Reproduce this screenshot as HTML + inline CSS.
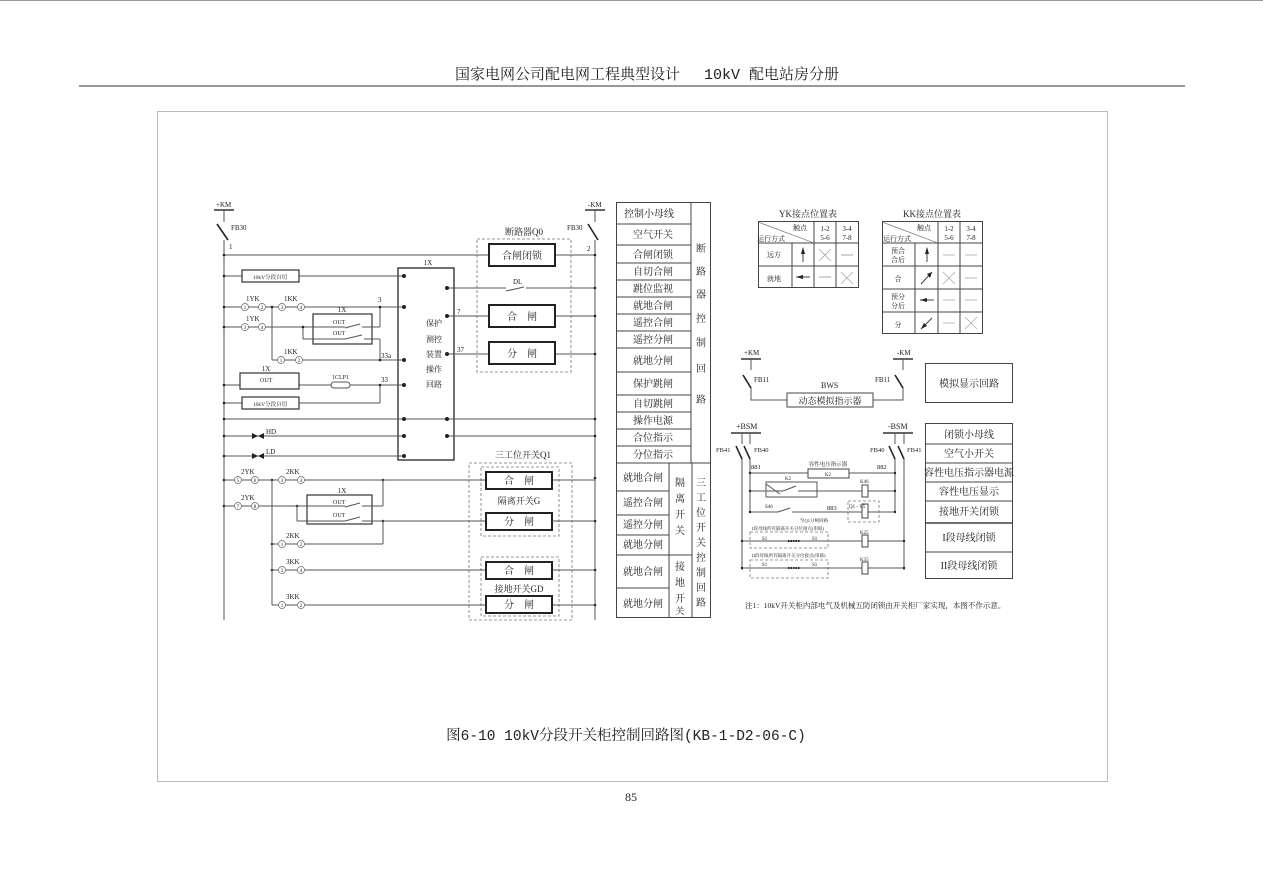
<!DOCTYPE html>
<html><head><meta charset="utf-8"><style>
html,body{margin:0;padding:0;background:#fff}
svg{display:block}
text{font-family:"Liberation Serif","Noto Serif CJK SC","Noto Sans CJK SC",serif;fill:#222}
.mono{font-family:"Liberation Mono","Noto Serif CJK SC","Noto Sans CJK SC",monospace}
.l{stroke:#555;stroke-width:1;fill:none}
.b{stroke:#222;stroke-width:2;fill:#fff}
.t{stroke:#444;stroke-width:1;fill:none}
.d{stroke:#777;stroke-width:0.8;fill:none;stroke-dasharray:3,2}
.c{stroke:#666;stroke-width:0.7;fill:#fff}
</style></head><body>
<svg width="1263" height="892" viewBox="0 0 1263 892" xmlns="http://www.w3.org/2000/svg">
<line x1="0" y1="0.5" x2="1263" y2="0.5" stroke="#999"/>
<text class="mono" x="647" y="79" font-size="15" text-anchor="middle">国家电网公司配电网工程典型设计　 10kV 配电站房分册</text>
<line x1="79" y1="86" x2="1185" y2="86" stroke="#333" stroke-width="1"/>
<rect x="157.5" y="111.5" width="950" height="670" fill="none" stroke="#bbb"/>
<text class="mono" x="626" y="740" font-size="14.5" text-anchor="middle">图6-10 10kV分段开关柜控制回路图(KB-1-D2-06-C)</text>
<text x="631" y="801" font-size="12" text-anchor="middle">85</text>

<!-- left circuit -->
<g font-size="7">
<text x="216" y="207">+KM</text><line x1="214" y1="210" x2="234" y2="210" stroke="#333" stroke-width="1.5"/>
<line class="l" x1="224" y1="210" x2="224" y2="222"/>
<line x1="217" y1="224" x2="228" y2="240" stroke="#222" stroke-width="1.6"/>
<text x="231" y="230">FB30</text>
<line class="l" x1="224" y1="240" x2="224" y2="620"/>
<text x="588" y="207">-KM</text><line x1="585" y1="210" x2="605" y2="210" stroke="#333" stroke-width="1.5"/>
<line class="l" x1="595" y1="210" x2="595" y2="222"/>
<line x1="588" y1="224" x2="598" y2="240" stroke="#222" stroke-width="1.6"/>
<text x="567" y="230">FB30</text>
<line class="l" x1="595" y1="240" x2="595" y2="620"/>
<text x="229" y="249">1</text><text x="587" y="251">2</text>
<text x="524" y="235" font-size="9" text-anchor="middle">断路器Q0</text>
<rect class="d" x="477" y="239" width="94" height="133"/>
<line class="l" x1="224" y1="255" x2="489" y2="255"/><line class="l" x1="556" y1="255" x2="595" y2="255"/>
<rect class="b" x="489" y="244" width="66" height="22"/><text x="522" y="259" font-size="10" text-anchor="middle">合闸闭锁</text>
<rect x="398" y="268" width="56" height="192" fill="#fff" stroke="#333" stroke-width="1.4"/>
<text x="428" y="265" text-anchor="middle">1X</text>
<g font-size="8"><text x="426" y="326">保护</text><text x="426" y="342">测控</text><text x="426" y="357">装置</text><text x="426" y="372">操作</text><text x="426" y="387">回路</text></g>
<line class="l" x1="224" y1="276" x2="242" y2="276"/><line class="l" x1="299" y1="276" x2="404" y2="276"/>
<rect x="242" y="270" width="57" height="12" fill="#fff" stroke="#333" stroke-width="1.2"/><text x="270" y="279" font-size="5.5" text-anchor="middle">10kV分段自切</text>
<line class="l" x1="447" y1="288" x2="506" y2="288"/><line class="l" x1="506" y1="291" x2="524" y2="287"/><line class="l" x1="526" y1="288" x2="595" y2="288"/>
<text x="513" y="284">DL</text>
<line class="l" x1="224" y1="307" x2="404" y2="307"/>
<text x="246" y="301">1YK</text><text x="284" y="301">1KK</text>
<circle class="c" cx="245" cy="307" r="3.5"/><circle class="c" cx="262" cy="307" r="3.5"/>
<circle class="c" cx="282" cy="307" r="3.5"/><circle class="c" cx="301" cy="307" r="3.5"/>
<g font-size="5" text-anchor="middle"><text x="245" y="309">1</text><text x="262" y="309">2</text><text x="282" y="309">3</text><text x="301" y="309">4</text></g>
<text x="378" y="302">3</text>
<line class="l" x1="224" y1="327" x2="303" y2="327"/>
<text x="246" y="321">1YK</text>
<circle class="c" cx="245" cy="327" r="3.5"/><circle class="c" cx="262" cy="327" r="3.5"/>
<g font-size="5" text-anchor="middle"><text x="245" y="329">3</text><text x="262" y="329">4</text></g>
<rect x="313" y="314" width="59" height="30" fill="#fff" stroke="#333" stroke-width="1.2"/>
<text x="342" y="312" text-anchor="middle">1X</text>
<text x="333" y="324" font-size="6">OUT</text><text x="333" y="335" font-size="6">OUT</text>
<line class="l" x1="303" y1="327" x2="303" y2="339"/><line class="l" x1="303" y1="339" x2="345" y2="339"/><line class="l" x1="345" y1="339" x2="362" y2="335"/>
<line class="l" x1="303" y1="327" x2="345" y2="327"/><line class="l" x1="345" y1="328" x2="360" y2="324"/><line class="l" x1="362" y1="327" x2="380" y2="327"/>
<line class="l" x1="380" y1="307" x2="380" y2="327"/>
<line class="l" x1="364" y1="339" x2="380" y2="339"/><line class="l" x1="380" y1="339" x2="380" y2="360"/>
<line class="l" x1="272" y1="307" x2="272" y2="360"/><line class="l" x1="272" y1="360" x2="404" y2="360"/>
<text x="284" y="354">1KK</text>
<circle class="c" cx="281" cy="360" r="3.5"/><circle class="c" cx="299" cy="360" r="3.5"/>
<g font-size="5" text-anchor="middle"><text x="281" y="362">1</text><text x="299" y="362">2</text></g>
<text x="381" y="358">33a</text>
<line class="l" x1="224" y1="385" x2="404" y2="385"/>
<rect x="240" y="373" width="59" height="16" fill="#fff" stroke="#333" stroke-width="1.2"/>
<text x="266" y="371" text-anchor="middle">1X</text><text x="260" y="382" font-size="6">OUT</text>
<rect x="331" y="382" width="19" height="6" rx="3" fill="#fff" stroke="#555"/>
<text x="332" y="379" font-size="6">1CLP1</text><text x="381" y="382">33</text>
<line class="l" x1="380" y1="385" x2="380" y2="403"/><line class="l" x1="299" y1="403" x2="380" y2="403"/>
<line class="l" x1="224" y1="403" x2="242" y2="403"/>
<rect x="242" y="397" width="57" height="12" fill="#fff" stroke="#333" stroke-width="1.2"/><text x="270" y="406" font-size="5.5" text-anchor="middle">10kV分段自切</text>
<line class="l" x1="447" y1="316" x2="489" y2="316"/><line class="l" x1="556" y1="316" x2="595" y2="316"/>
<rect class="b" x="489" y="305" width="66" height="22"/><text x="522" y="320" font-size="10" text-anchor="middle">合　闸</text>
<text x="457" y="314">7</text>
<line class="l" x1="447" y1="354" x2="489" y2="354"/><line class="l" x1="556" y1="354" x2="595" y2="354"/>
<rect class="b" x="489" y="342" width="66" height="22"/><text x="522" y="357" font-size="10" text-anchor="middle">分　闸</text>
<text x="457" y="352">37</text>
<line class="l" x1="224" y1="419" x2="595" y2="419"/>
<line class="l" x1="224" y1="436" x2="404" y2="436"/><line class="l" x1="447" y1="436" x2="595" y2="436"/>
<line class="l" x1="224" y1="456" x2="404" y2="456"/>
<path d="M252 433 L252 439 L258 436 Z M264 433 L264 439 L258 436 Z" fill="#222"/><text x="266" y="434">HD</text>
<path d="M252 453 L252 459 L258 456 Z M264 453 L264 459 L258 456 Z" fill="#222"/><text x="266" y="454">LD</text>
<g fill="#222">
<circle cx="404" cy="276" r="2"/><circle cx="404" cy="307" r="2"/><circle cx="404" cy="360" r="2"/><circle cx="404" cy="385" r="2"/><circle cx="404" cy="419" r="2"/><circle cx="404" cy="436" r="2"/><circle cx="404" cy="456" r="2"/>
<circle cx="447" cy="288" r="2"/><circle cx="447" cy="316" r="2"/><circle cx="447" cy="354" r="2"/><circle cx="447" cy="419" r="2"/><circle cx="447" cy="436" r="2"/>
<circle cx="224" cy="255" r="1.3"/><circle cx="224" cy="276" r="1.3"/><circle cx="224" cy="307" r="1.3"/><circle cx="224" cy="327" r="1.3"/><circle cx="224" cy="385" r="1.3"/><circle cx="224" cy="403" r="1.3"/><circle cx="224" cy="419" r="1.3"/><circle cx="224" cy="436" r="1.3"/><circle cx="224" cy="456" r="1.3"/><circle cx="224" cy="480" r="1.3"/><circle cx="224" cy="506" r="1.3"/>
<circle cx="595" cy="255" r="1.3"/><circle cx="595" cy="288" r="1.3"/><circle cx="595" cy="316" r="1.3"/><circle cx="595" cy="354" r="1.3"/><circle cx="595" cy="419" r="1.3"/><circle cx="595" cy="436" r="1.3"/><circle cx="595" cy="478" r="1.3"/><circle cx="595" cy="521" r="1.3"/><circle cx="595" cy="570" r="1.3"/><circle cx="595" cy="605" r="1.3"/>
<circle cx="272" cy="307" r="1.3"/><circle cx="380" cy="307" r="1.3"/><circle cx="303" cy="327" r="1.3"/><circle cx="380" cy="360" r="1.3"/><circle cx="380" cy="385" r="1.3"/>
<circle cx="272" cy="480" r="1.3"/><circle cx="383" cy="480" r="1.3"/><circle cx="297" cy="506" r="1.3"/><circle cx="383" cy="521" r="1.3"/><circle cx="272" cy="544" r="1.3"/><circle cx="272" cy="570" r="1.3"/>
</g>
<text x="523" y="458" font-size="9" text-anchor="middle">三工位开关Q1</text>
<rect class="d" x="469" y="463" width="103" height="157"/>
<rect class="d" x="481" y="467" width="78" height="69"/>
<rect class="d" x="481" y="557" width="78" height="59"/>
<line class="l" x1="224" y1="480" x2="486" y2="480"/><line class="l" x1="552" y1="480" x2="595" y2="480"/>
<rect class="b" x="486" y="472" width="66" height="17"/><text x="519" y="484" font-size="10" text-anchor="middle">合　闸</text>
<text x="519" y="504" font-size="9" text-anchor="middle">隔离开关G</text>
<text x="241" y="474">2YK</text><text x="286" y="474">2KK</text>
<circle class="c" cx="238" cy="480" r="3.5"/><circle class="c" cx="255" cy="480" r="3.5"/><circle class="c" cx="282" cy="480" r="3.5"/><circle class="c" cx="301" cy="480" r="3.5"/>
<g font-size="5" text-anchor="middle"><text x="238" y="482">5</text><text x="255" y="482">6</text><text x="282" y="482">3</text><text x="301" y="482">4</text></g>
<line class="l" x1="224" y1="506" x2="297" y2="506"/>
<text x="241" y="500">2YK</text>
<circle class="c" cx="238" cy="506" r="3.5"/><circle class="c" cx="255" cy="506" r="3.5"/>
<g font-size="5" text-anchor="middle"><text x="238" y="508">7</text><text x="255" y="508">8</text></g>
<rect x="307" y="495" width="65" height="29" fill="#fff" stroke="#333" stroke-width="1.2"/>
<text x="342" y="493" text-anchor="middle">1X</text>
<text x="333" y="504" font-size="6">OUT</text><text x="333" y="517" font-size="6">OUT</text>
<line class="l" x1="297" y1="506" x2="345" y2="506"/><line class="l" x1="345" y1="507" x2="360" y2="503"/><line class="l" x1="362" y1="506" x2="383" y2="506"/>
<line class="l" x1="297" y1="506" x2="297" y2="521"/><line class="l" x1="297" y1="521" x2="345" y2="521"/><line class="l" x1="345" y1="521" x2="360" y2="517"/><line class="l" x1="362" y1="521" x2="486" y2="521"/>
<line class="l" x1="383" y1="480" x2="383" y2="506"/>
<rect class="b" x="486" y="513" width="66" height="17"/><text x="519" y="525" font-size="10" text-anchor="middle">分　闸</text>
<line class="l" x1="552" y1="521" x2="595" y2="521"/>
<line class="l" x1="272" y1="480" x2="272" y2="605"/>
<line class="l" x1="272" y1="544" x2="383" y2="544"/><line class="l" x1="383" y1="521" x2="383" y2="544"/>
<text x="286" y="538">2KK</text>
<circle class="c" cx="282" cy="544" r="3.5"/><circle class="c" cx="301" cy="544" r="3.5"/>
<line class="l" x1="272" y1="570" x2="486" y2="570"/><line class="l" x1="552" y1="570" x2="595" y2="570"/>
<text x="286" y="564">3KK</text>
<circle class="c" cx="282" cy="570" r="3.5"/><circle class="c" cx="301" cy="570" r="3.5"/>
<rect class="b" x="486" y="562" width="66" height="17"/><text x="519" y="574" font-size="10" text-anchor="middle">合　闸</text>
<text x="519" y="592" font-size="9" text-anchor="middle">接地开关GD</text>
<line class="l" x1="272" y1="605" x2="486" y2="605"/><line class="l" x1="552" y1="605" x2="595" y2="605"/>
<text x="286" y="599">3KK</text>
<circle class="c" cx="282" cy="605" r="3.5"/><circle class="c" cx="301" cy="605" r="3.5"/>
<rect class="b" x="486" y="596" width="66" height="17"/><text x="519" y="608" font-size="10" text-anchor="middle">分　闸</text>
<g font-size="5" text-anchor="middle"><text x="282" y="546">1</text><text x="301" y="546">2</text><text x="282" y="572">3</text><text x="301" y="572">4</text><text x="282" y="607">1</text><text x="301" y="607">2</text></g>
</g>

<g font-size="10" text-anchor="middle">
<rect class="t" x="616.5" y="202.5" width="94" height="415"/>
<line class="t" x1="691" y1="202" x2="691" y2="463"/>
<line class="t" x1="616" y1="463" x2="711" y2="463"/>
<line class="t" x1="669" y1="463" x2="669" y2="618"/><line class="t" x1="692" y1="463" x2="692" y2="618"/>
<g class="t">
<line x1="616" y1="224" x2="691" y2="224"/><line x1="616" y1="245" x2="691" y2="245"/><line x1="616" y1="263" x2="691" y2="263"/><line x1="616" y1="280" x2="691" y2="280"/><line x1="616" y1="297" x2="691" y2="297"/><line x1="616" y1="314" x2="691" y2="314"/><line x1="616" y1="331" x2="691" y2="331"/><line x1="616" y1="348" x2="691" y2="348"/><line x1="616" y1="372" x2="691" y2="372"/><line x1="616" y1="395" x2="691" y2="395"/><line x1="616" y1="412" x2="691" y2="412"/><line x1="616" y1="429" x2="691" y2="429"/><line x1="616" y1="446" x2="691" y2="446"/>
<line x1="616" y1="491" x2="669" y2="491"/><line x1="616" y1="515" x2="669" y2="515"/><line x1="616" y1="535" x2="669" y2="535"/><line x1="616" y1="555" x2="692" y2="555"/><line x1="616" y1="588" x2="669" y2="588"/>
</g>
<text x="649" y="217">控制小母线</text><text x="653" y="238">空气开关</text><text x="653" y="258">合闸闭锁</text><text x="653" y="275">自切合闸</text><text x="653" y="292">跳位监视</text><text x="653" y="309">就地合闸</text><text x="653" y="326">遥控合闸</text><text x="653" y="343">遥控分闸</text><text x="653" y="364">就地分闸</text><text x="653" y="387">保护跳闸</text><text x="653" y="407">自切跳闸</text><text x="653" y="424">操作电源</text><text x="653" y="441">合位指示</text><text x="653" y="458">分位指示</text>
<text x="643" y="481">就地合闸</text><text x="643" y="506">遥控合闸</text><text x="643" y="528">遥控分闸</text><text x="643" y="548">就地分闸</text><text x="643" y="575">就地合闸</text><text x="643" y="607">就地分闸</text>
<text x="701" y="252">断</text><text x="701" y="275">路</text><text x="701" y="298">器</text><text x="701" y="322">控</text><text x="701" y="346">制</text><text x="701" y="372">回</text><text x="701" y="403">路</text>
<text x="680" y="486">隔</text><text x="680" y="502">离</text><text x="680" y="518">开</text><text x="680" y="534">关</text>
<text x="680" y="570">接</text><text x="680" y="586">地</text><text x="680" y="602">开</text><text x="680" y="614" font-size="9">关</text>
<text x="701" y="486">三</text><text x="701" y="501">工</text><text x="701" y="516">位</text><text x="701" y="531">开</text><text x="701" y="546">关</text><text x="701" y="561">控</text><text x="701" y="576">制</text><text x="701" y="591">回</text><text x="701" y="606">路</text>
</g>

<g font-size="7" text-anchor="middle">
<text x="808" y="217" font-size="9">YK接点位置表</text>
<rect class="t" x="758.5" y="221.5" width="100" height="66"/>
<line class="t" x1="792" y1="243" x2="792" y2="288"/><line class="t" x1="814" y1="221" x2="814" y2="288"/><line class="t" x1="836" y1="221" x2="836" y2="288"/>
<line class="t" x1="758" y1="243" x2="858" y2="243"/><line class="t" x1="758" y1="266" x2="858" y2="266"/>
<line x1="758" y1="222" x2="814" y2="243" stroke="#666" stroke-width="0.6"/>
<text x="800" y="230">触点</text><text x="771" y="241">运行方式</text>
<text x="825" y="231">1-2</text><text x="825" y="240">5-6</text><text x="847" y="231">3-4</text><text x="847" y="240">7-8</text>
<text x="774" y="257">远方</text><text x="774" y="281">就地</text>
<line x1="803" y1="248" x2="803" y2="262" stroke="#444"/><path d="M801 254 L803 247 L805 254Z" fill="#222"/>
<line x1="796" y1="277" x2="810" y2="277" stroke="#444"/><path d="M803 275 L796 277 L803 279Z" fill="#222"/>
<path d="M819 249 L831 261 M831 249 L819 261" stroke="#aaa" stroke-width="0.8"/>
<line x1="841" y1="255" x2="853" y2="255" stroke="#aaa"/>
<line x1="819" y1="277" x2="831" y2="277" stroke="#aaa"/>
<path d="M841 272 L853 284 M853 272 L841 284" stroke="#aaa" stroke-width="0.8"/>
</g>
<g font-size="7" text-anchor="middle">
<text x="932" y="217" font-size="9">KK接点位置表</text>
<rect class="t" x="882.5" y="221.5" width="100" height="112"/>
<line class="t" x1="915" y1="243" x2="915" y2="334"/><line class="t" x1="938" y1="221" x2="938" y2="334"/><line class="t" x1="960" y1="221" x2="960" y2="334"/>
<line class="t" x1="882" y1="243" x2="982" y2="243"/><line class="t" x1="882" y1="266" x2="982" y2="266"/><line class="t" x1="882" y1="289" x2="982" y2="289"/><line class="t" x1="882" y1="312" x2="982" y2="312"/>
<line x1="882" y1="222" x2="938" y2="243" stroke="#666" stroke-width="0.6"/>
<text x="924" y="230">触点</text><text x="897" y="241">运行方式</text>
<text x="949" y="231">1-2</text><text x="949" y="240">5-6</text><text x="971" y="231">3-4</text><text x="971" y="240">7-8</text>
<text x="898" y="253">预合</text><text x="898" y="262">合后</text><text x="898" y="281">合</text><text x="898" y="299">预分</text><text x="898" y="308">分后</text><text x="898" y="327">分</text>
<line x1="927" y1="248" x2="927" y2="262" stroke="#444"/><path d="M925 254 L927 247 L929 254Z" fill="#222"/>
<line x1="921" y1="284" x2="932" y2="272" stroke="#444"/><path d="M927 274 L932 272 L930 278Z" fill="#222"/>
<line x1="920" y1="300" x2="934" y2="300" stroke="#444"/><path d="M927 298 L920 300 L927 302Z" fill="#222"/>
<line x1="921" y1="329" x2="932" y2="318" stroke="#444"/><path d="M921 329 L924 323 L927 326Z" fill="#222"/>
<g stroke="#aaa" stroke-width="0.8">
<line x1="943" y1="255" x2="955" y2="255"/><line x1="965" y1="255" x2="977" y2="255"/>
<path d="M943 272 L955 284 M955 272 L943 284"/><line x1="965" y1="278" x2="977" y2="278"/>
<line x1="943" y1="300" x2="955" y2="300"/><line x1="965" y1="300" x2="977" y2="300"/>
<line x1="943" y1="323" x2="955" y2="323"/><path d="M965 317 L977 329 M977 317 L965 329"/>
</g>
</g>

<g font-size="7">
<text x="744" y="355">+KM</text><line x1="741" y1="359" x2="761" y2="359" stroke="#333" stroke-width="1.5"/>
<line class="l" x1="751" y1="359" x2="751" y2="370"/>
<line x1="743" y1="375" x2="751" y2="388" stroke="#222" stroke-width="1.6"/>
<text x="754" y="382">FB11</text>
<path class="l" d="M751 388 L751 400 L787 400"/>
<rect x="787" y="393" width="86" height="14" fill="#fff" stroke="#444"/><text x="830" y="404" font-size="9" text-anchor="middle">动态模拟指示器</text>
<text x="821" y="388" font-size="8">BWS</text>
<text x="897" y="355">-KM</text><line x1="893" y1="359" x2="913" y2="359" stroke="#333" stroke-width="1.5"/>
<line class="l" x1="903" y1="359" x2="903" y2="370"/>
<line x1="895" y1="375" x2="903" y2="388" stroke="#222" stroke-width="1.6"/>
<text x="875" y="382">FB11</text>
<path class="l" d="M903 388 L903 400 L873 400"/>
<rect class="t" x="925.5" y="363.5" width="87" height="39"/><text x="969" y="387" font-size="10" text-anchor="middle">模拟显示回路</text>
</g>

<g font-size="6.5">
<text x="736" y="429" font-size="8">+BSM</text><line x1="731" y1="433" x2="761" y2="433" stroke="#333" stroke-width="1.5"/>
<line class="l" x1="742" y1="433" x2="742" y2="444"/><line class="l" x1="750" y1="433" x2="750" y2="444"/>
<line x1="736" y1="446" x2="742" y2="459" stroke="#222" stroke-width="1.5"/>
<line x1="744" y1="446" x2="750" y2="459" stroke="#222" stroke-width="1.5"/>
<text x="716" y="452">FB41</text><text x="754" y="452">FB40</text>
<line class="l" x1="742" y1="459" x2="742" y2="570"/><line class="l" x1="750" y1="459" x2="750" y2="512"/>
<text x="888" y="429" font-size="8">-BSM</text><line x1="883" y1="433" x2="913" y2="433" stroke="#333" stroke-width="1.5"/>
<line class="l" x1="895" y1="433" x2="895" y2="444"/><line class="l" x1="904" y1="433" x2="904" y2="444"/>
<line x1="889" y1="446" x2="895" y2="459" stroke="#222" stroke-width="1.5"/>
<line x1="898" y1="446" x2="904" y2="459" stroke="#222" stroke-width="1.5"/>
<text x="870" y="452">FB40</text><text x="907" y="452">FB41</text>
<line class="l" x1="895" y1="459" x2="895" y2="512"/><line class="l" x1="904" y1="459" x2="904" y2="570"/>
<text x="751" y="469">881</text><text x="877" y="469">882</text>
<line class="l" x1="750" y1="473" x2="808" y2="473"/><line class="l" x1="849" y1="473" x2="895" y2="473"/>
<rect x="808" y="469" width="41" height="9" fill="#fff" stroke="#444"/><text x="828" y="476" text-anchor="middle" font-size="5">K2</text>
<text x="828" y="466" text-anchor="middle" font-size="5.5">容性电压指示器</text>
<line class="l" x1="750" y1="491" x2="783" y2="491"/><line class="l" x1="783" y1="491" x2="796" y2="486"/><line class="l" x1="798" y1="491" x2="862" y2="491"/><line class="l" x1="868" y1="491" x2="895" y2="491"/>
<rect x="766" y="482" width="51" height="15" fill="none" stroke="#555"/>
<line class="l" x1="766" y1="484" x2="780" y2="494"/>
<text x="785" y="480" font-size="5">K2</text>
<rect x="862" y="485" width="6" height="12" fill="#fff" stroke="#444"/><text x="860" y="483" font-size="5">K46</text>
<line class="l" x1="750" y1="512" x2="778" y2="512"/><line class="l" x1="778" y1="512" x2="790" y2="508"/><line class="l" x1="792" y1="512" x2="862" y2="512"/><line class="l" x1="868" y1="512" x2="895" y2="512"/>
<text x="765" y="508" font-size="5">S46</text><text x="827" y="510">883</text>
<rect class="d" x="848" y="501" width="31" height="21"/>
<rect x="862" y="504" width="6" height="14" fill="#fff" stroke="#444"/><text x="849" y="508" font-size="5">Q1 - Y5</text>
<text x="800" y="522" font-size="4.5">至Q1分闸回路</text>
<line class="l" x1="742" y1="541" x2="862" y2="541"/><line class="l" x1="868" y1="541" x2="904" y2="541"/>
<rect class="d" x="750" y="532" width="78" height="16"/>
<rect x="862" y="535" width="6" height="12" fill="#fff" stroke="#444"/><text x="860" y="534" font-size="5">K25</text>
<text x="752" y="530" font-size="4.5">I段母线所有隔离开关分位接点(串联)</text>
<text x="762" y="540" font-size="5">S1</text><text x="812" y="540" font-size="5">S1</text>
<line x1="788" y1="541" x2="800" y2="541" stroke="#222" stroke-width="2" stroke-dasharray="1.5,1"/>
<line class="l" x1="742" y1="568" x2="862" y2="568"/><line class="l" x1="868" y1="568" x2="904" y2="568"/>
<rect class="d" x="750" y="560" width="78" height="18"/>
<rect x="862" y="562" width="6" height="12" fill="#fff" stroke="#444"/><text x="860" y="561" font-size="5">K35</text>
<text x="752" y="557" font-size="4.5">II段母线所有隔离开关分位接点(串联)</text>
<text x="762" y="566" font-size="5">S1</text><text x="812" y="566" font-size="5">S1</text>
<line x1="788" y1="568" x2="800" y2="568" stroke="#222" stroke-width="2" stroke-dasharray="1.5,1"/>
<g fill="#222"><circle cx="750" cy="473" r="1.2"/><circle cx="750" cy="491" r="1.2"/><circle cx="750" cy="512" r="1.2"/><circle cx="742" cy="541" r="1.2"/><circle cx="742" cy="568" r="1.2"/><circle cx="895" cy="473" r="1.2"/><circle cx="895" cy="491" r="1.2"/><circle cx="895" cy="512" r="1.2"/><circle cx="904" cy="541" r="1.2"/><circle cx="904" cy="568" r="1.2"/></g>
</g>
<g font-size="10" text-anchor="middle">
<rect class="t" x="925.5" y="423.5" width="87" height="155"/>
<g class="t"><line x1="925" y1="444" x2="1013" y2="444"/><line x1="925" y1="463" x2="1013" y2="463"/><line x1="925" y1="482" x2="1013" y2="482"/><line x1="925" y1="501" x2="1013" y2="501"/><line x1="925" y1="523" x2="1013" y2="523" stroke-width="1.5"/><line x1="925" y1="552" x2="1013" y2="552"/></g>
<text x="969" y="438">闭锁小母线</text><text x="969" y="457">空气小开关</text><text x="969" y="476">容性电压指示器电源</text><text x="969" y="495">容性电压显示</text><text x="969" y="515">接地开关闭锁</text><text x="969" y="541">I段母线闭锁</text><text x="969" y="569">II段母线闭锁</text>
</g>
<text x="745" y="608" font-size="7.5">注1：10kV开关柜内部电气及机械五防闭锁由开关柜厂家实现，本图不作示意。</text>
</svg>
</body></html>
